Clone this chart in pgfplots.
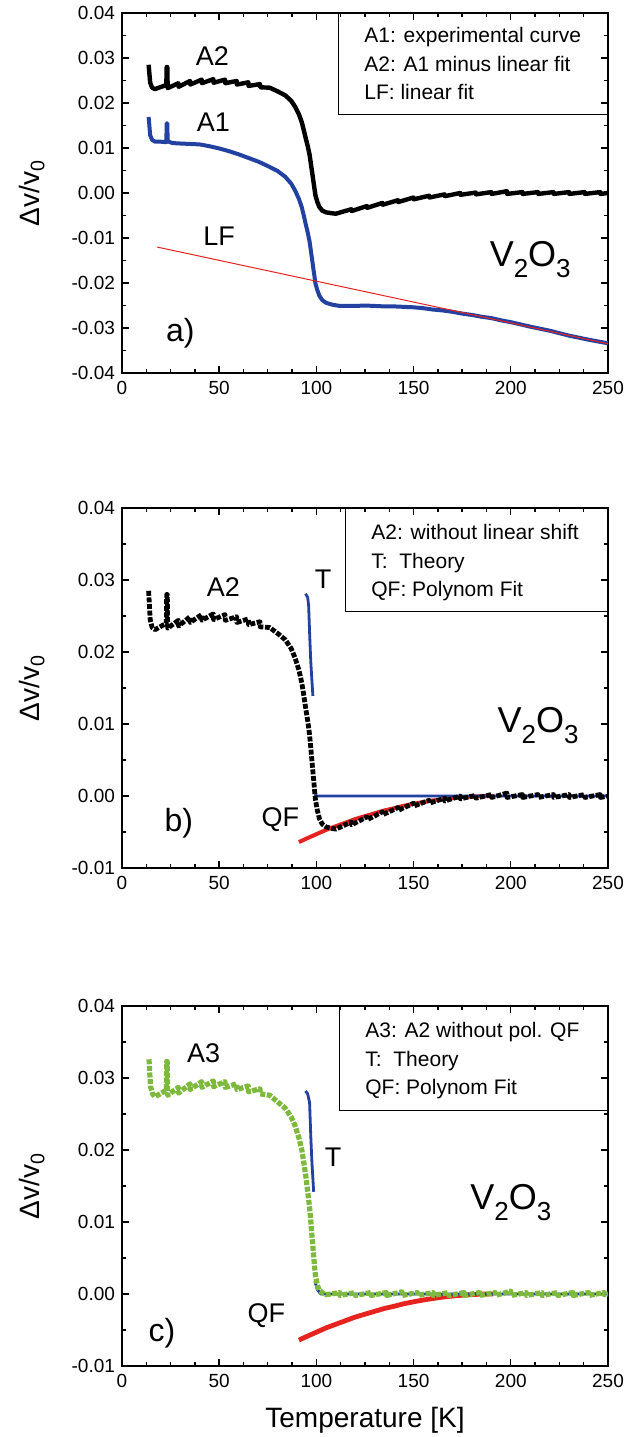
\documentclass[border=0pt]{standalone}
\usepackage{fontspec}
\setmainfont{Liberation Sans}
\usepackage{pgfplots}
\usepackage{pgfplotstable}
\pgfplotsset{compat=1.18}

\definecolor{cblue}{RGB}{35,65,160}
\definecolor{cred}{RGB}{230,35,30}
\definecolor{cgreen}{RGB}{125,185,60}

% A2: A1 minus linear fit (with the sweep sawtooth of the raw data)
\pgfplotstableread{
x y
13.7 0.0285
14.0 0.0270
14.5 0.0245
15.5 0.0234
17 0.0231
22.8 0.0240
23.0 0.0280
23.3 0.0280
23.5 0.0233
29.0 0.0244
29.1 0.0236
35.0 0.0249
35.1 0.0241
41.0 0.0252
41.1 0.0244
47.0 0.0253
47.1 0.0245
53.0 0.0252
53.1 0.0244
59.0 0.0249
59.1 0.0241
65.0 0.0246
65.1 0.0238
71.0 0.0242
71.1 0.0235
76.0 0.0234
80 0.0226
84 0.0217
87 0.0205
89 0.0192
91 0.0175
92.5 0.0157
93.5 0.0140
94.5 0.0122
95.5 0.0105
96.5 0.0085
97.0 0.0070
97.5 0.0055
98.0 0.0040
98.5 0.0025
99.0 0.0010
99.5 -0.0005
100.5 -0.0020
101.5 -0.0031
103 -0.0039
105 -0.0043
108 -0.0045
110 -0.0046
118.0 -0.0036
118.1 -0.0040
126.0 -0.0029
126.1 -0.0033
134.0 -0.0022
134.1 -0.0026
142.0 -0.0016
142.1 -0.0020
150.0 -0.0010
150.1 -0.0014
158.0 -0.0006
158.1 -0.0010
166.0 -0.0003
166.1 -0.0007
174.0 0.0000
174.1 -0.0004
182.0 0.0001
182.1 -0.0003
190.0 0.0002
190.1 -0.0002
198.0 0.0004
198.1 -0.0002
206.0 0.0002
206.1 -0.0002
214.0 0.0002
214.1 -0.0002
222.0 0.0002
222.1 -0.0002
230.0 0.0002
230.1 -0.0002
238.0 0.0002
238.1 -0.0002
246.0 0.0002
246.1 -0.0002
250 0.0000
}\Atwo

% A1: experimental curve
\pgfplotstableread{
x y
13.7 0.0169
14.0 0.0154
14.5 0.0128
15.5 0.0118
17 0.0114
20 0.0114
22.8 0.0113
23.0 0.0155
23.3 0.0155
23.5 0.0115
26 0.0111
30 0.0110
35 0.0109
40 0.0108
45 0.0104
50 0.0099
55 0.0093
60 0.0086
65 0.0078
70 0.0070
75 0.0060
80 0.0049
84 0.0036
87 0.0021
89 0.0006
91 -0.0013
92.5 -0.0032
93.5 -0.0050
94.5 -0.0069
95.5 -0.0087
96.5 -0.0108
97.0 -0.0123
97.5 -0.0139
98.0 -0.0154
98.5 -0.0170
99.0 -0.0185
99.5 -0.0201
100.5 -0.0216
101.5 -0.0228
103 -0.0238
105 -0.0244
108 -0.0248
112 -0.0251
116 -0.0251
120 -0.0251
125 -0.0250
130 -0.0251
135 -0.0252
140 -0.0252
145 -0.0253
150 -0.0254
155 -0.0256
160 -0.0259
165 -0.0261
170 -0.0264
175 -0.0268
180 -0.0271
185 -0.0275
190 -0.0278
195 -0.0283
200 -0.0287
210 -0.0297
220 -0.0306
230 -0.0317
240 -0.0326
250 -0.0334
}\Aone

% A3: A2 without polynomial fit
\pgfplotstableread{
x y
13.9 0.0326
14.2 0.0310
14.7 0.0288
15.7 0.0278
17 0.0274
22.8 0.0283
23.0 0.0323
23.3 0.0323
23.5 0.0276
29.0 0.0287
29.1 0.0279
35.0 0.0292
35.1 0.0284
41.0 0.0295
41.1 0.0287
47.0 0.0296
47.1 0.0288
53.0 0.0295
53.1 0.0287
59.0 0.0292
59.1 0.0284
65.0 0.0289
65.1 0.0281
71.0 0.0285
71.1 0.0278
76.0 0.0276
80 0.0267
84 0.0258
87 0.0246
89 0.0234
91 0.0217
92.5 0.0200
93.5 0.0183
94.5 0.0165
95.5 0.0143
96.5 0.0120
97.0 0.0105
97.5 0.0088
98.0 0.0072
98.5 0.0056
99.0 0.0040
99.5 0.0026
100.5 0.0012
101.5 0.0005
103 0.0002
105 -0.0001
112.0 0.0002
112.1 -0.0002
120.0 0.0002
120.1 -0.0002
128.0 0.0002
128.1 -0.0002
136.0 0.0002
136.1 -0.0002
144.0 0.0003
144.1 -0.0002
152.0 0.0002
152.1 -0.0002
160.0 0.0002
160.1 -0.0002
168.0 0.0002
168.1 -0.0002
176.0 0.0002
176.1 -0.0002
184.0 0.0002
184.1 -0.0002
192.0 0.0002
192.1 -0.0002
200.0 0.0004
200.1 -0.0002
208.0 0.0002
208.1 -0.0002
216.0 0.0002
216.1 -0.0002
224.0 0.0002
224.1 -0.0002
232.0 0.0002
232.1 -0.0002
240.0 0.0002
240.1 -0.0002
248.0 0.0002
248.1 -0.0001
250 0.0000
}\Athree

% QF: polynomial fit
\pgfplotstableread{
x y
91 -0.0064
95 -0.0059
100 -0.0053
105 -0.0047
110 -0.0042
115 -0.0037
120 -0.0032
125 -0.0028
130 -0.0024
135 -0.0020
140 -0.0017
145 -0.00135
150 -0.00108
155 -0.00083
160 -0.00062
165 -0.00043
170 -0.00028
175 -0.00016
180 -0.00008
185 -0.00002
191 0.0
}\QF

\pgfplotsset{
  panel/.style={
    scale only axis, width=243pt, height=180pt,
    xmin=0, xmax=250,
    xtick={0,50,...,250}, xticklabels={0,50,100,150,200,250},
    minor x tick num=3, minor y tick num=1,
    tick align=inside, major tick length=3.5pt, minor tick length=2pt,
    axis line style={line width=0.8pt},
    every tick/.style={black, line width=0.7pt},
    ticklabel style={font=\fontsize{9.5}{11}\selectfont},
    xticklabel style={yshift=-0.5pt},
    scaled y ticks=false,
    ylabel={Δv/v\textsubscript{0}},
    every axis y label/.style={at={(axis description cs:-0.185,0.5)},
      rotate=90, anchor=center, font=\fontsize{14}{16}\selectfont},
    every axis x label/.style={at={(axis description cs:0.5,0)},
      yshift=-27pt, anchor=center, font=\fontsize{14}{16}\selectfont},
  },
}
\tikzset{
  lbl/.style={font=\fontsize{13.5}{15}\selectfont},
  tag/.style={font=\fontsize{16}{18}\selectfont},
  chem/.style={font=\fontsize{18}{20}\selectfont, anchor=base},
  leg/.style={font=\fontsize{10.5}{12}\selectfont, anchor=base west, inner sep=0pt},
}
\newcommand{\chemsub}[1]{\raisebox{-0.3em}{\fontsize{13}{14}\selectfont #1}}
\newcommand{\VO}{V\chemsub{2}O\chemsub{3}}

\begin{document}
\begin{tikzpicture}

% ---- a) ----
\begin{axis}[panel, at={(0pt,0pt)}, anchor=south west,
  ymin=-0.04, ymax=0.04,
  ytick={-0.04,-0.03,...,0.04},
  yticklabels={-0.04,-0.03,-0.02,-0.01,0.00,0.01,0.02,0.03,0.04}]
\addplot[cblue, line width=2pt, line join=round] table {\Aone};
\addplot[black, line width=2.2pt, line join=round] table {\Atwo};
\addplot[cred, line width=0.5pt] coordinates {(18,-0.0120) (250,-0.0335)};
\node[lbl] at (axis cs:46.5,0.0305) {A2};
\node[lbl] at (axis cs:47,0.0158) {A1};
\node[lbl] at (axis cs:50,-0.0096) {LF};
\node[tag] at (axis cs:30,-0.0312) {a)};
\node[chem] at (axis cs:210,-0.0163) {\VO};
\node[draw, line width=0.5pt, anchor=north east, inner sep=0pt,
  minimum width=134.5pt, minimum height=50.5pt] (la) at (rel axis cs:1,1) {};
\node[leg] at ([xshift=13pt,yshift=-14.8pt]la.north west) {A1: experimental curve};
\node[leg] at ([xshift=13pt,yshift=-29pt]la.north west) {A2: A1 minus linear fit};
\node[leg] at ([xshift=13pt,yshift=-43.2pt]la.north west) {LF: linear fit};
\end{axis}

% ---- b) ----
\begin{axis}[panel, at={(0pt,-247.5pt)}, anchor=south west,
  ymin=-0.01, ymax=0.04,
  ytick={-0.01,0,...,0.04},
  yticklabels={-0.01,0.00,0.01,0.02,0.03,0.04}]
\addplot[cred, line width=2pt] table {\QF};
\addplot[cblue, line width=1.4pt] coordinates {(94.4,0.0281) (95.5,0.0276) (96.0,0.0265) (96.6,0.0220) (97.1,0.0187) (97.7,0.0160) (98.2,0.0139)};
\addplot[cblue, line width=1.4pt] coordinates {(99.3,0.0003) (100,0.0) (150,0.0) (200,0.0) (250,0.0)};
\addplot[black, line width=2.4pt, line join=round, dash pattern=on 2.5pt off 0.8pt] table {\Atwo};
\node[lbl] at (axis cs:52.2,0.0290) {A2};
\node[lbl] at (axis cs:103.4,0.0301) {T};
\node[tag] at (axis cs:29.2,-0.0038) {b)};
\node[lbl] at (axis cs:81.5,-0.0033) {QF};
\node[chem] at (axis cs:214,0.0088) {\VO};
\node[draw, line width=0.5pt, anchor=north east, inner sep=0pt,
  minimum width=131pt, minimum height=51.7pt] (lb) at (rel axis cs:1,1) {};
\node[leg] at ([xshift=13pt,yshift=-15.5pt]lb.north west) {A2: without linear shift};
\node[leg] at ([xshift=13pt,yshift=-30pt]lb.north west) {T:\ \ Theory};
\node[leg] at ([xshift=13pt,yshift=-44.3pt]lb.north west) {QF: Polynom Fit};
\end{axis}

% ---- c) ----
\begin{axis}[panel, at={(0pt,-496.5pt)}, anchor=south west,
  ymin=-0.01, ymax=0.04,
  ytick={-0.01,0,...,0.04},
  yticklabels={-0.01,0.00,0.01,0.02,0.03,0.04},
  xlabel={Temperature [K]}]
\addplot[cred, line width=2.4pt] table {\QF};
\addplot[cblue, line width=1.4pt] coordinates {(94.4,0.0282) (95.5,0.0278) (96.5,0.0266) (97.1,0.0220) (97.7,0.0183) (98.2,0.0160) (98.6,0.0142)};
\addplot[cblue, line width=1.4pt] coordinates {(99.2,0.0018) (100.5,0.0006) (102.3,0.0) (150,0.0) (200,0.0) (250,0.0)};
\addplot[cgreen, line width=2.6pt, line join=round, dash pattern=on 2.5pt off 0.8pt] table {\Athree};
\node[lbl] at (axis cs:42,0.0335) {A3};
\node[lbl] at (axis cs:108.6,0.0190) {T};
\node[tag] at (axis cs:20.6,-0.0055) {c)};
\node[lbl] at (axis cs:74.3,-0.0030) {QF};
\node[chem] at (axis cs:200,0.0117) {\VO};
\node[draw, line width=0.5pt, anchor=north east, inner sep=0pt,
  minimum width=134pt, minimum height=52pt] (lc) at (rel axis cs:1,1) {};
\node[leg] at ([xshift=13pt,yshift=-15.5pt]lc.north west) {A3: A2 without pol. QF};
\node[leg] at ([xshift=13pt,yshift=-30pt]lc.north west) {T:\ \ Theory};
\node[leg] at ([xshift=13pt,yshift=-44.3pt]lc.north west) {QF: Polynom Fit};
\end{axis}

\pgfresetboundingbox
\path[use as bounding box] (-61pt,186.5pt) rectangle (255pt,-532pt);
\end{tikzpicture}
\end{document}
